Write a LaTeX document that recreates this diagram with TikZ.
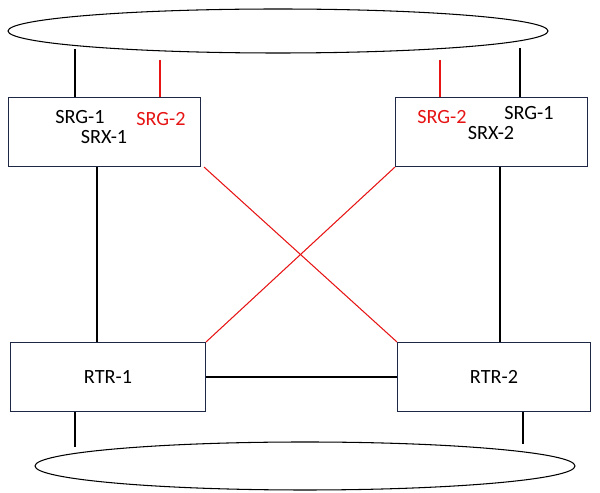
\documentclass[tikz,border=0pt]{standalone}
\usepackage{fontspec}
\setmainfont{Carlito}
\usetikzlibrary{calc}
\definecolor{srgred}{RGB}{230,20,20}
\definecolor{boxline}{RGB}{30,40,70}
\begin{document}
\begin{tikzpicture}[x=0.02cm,y=-0.02cm,
    box/.style={draw=boxline,semithick,minimum width=3.84cm,minimum height=1.38cm,anchor=north west,inner sep=0pt},
    lbl/.style={font=\fontsize{11.5}{13}\selectfont},
    red/.style={srgred,semithick},
    blk/.style={black,semithick}]
        \useasboundingbox (0,0) rectangle (600,493);
        \draw[semithick] (278,31) ellipse [x radius=270,y radius=22] coordinate (top);
        \draw[semithick] (305,466) ellipse [x radius=270,y radius=24] coordinate (bot);
        \node[box] (srx1) at (8,97) {};
        \node[box] (srx2) at (395,97) {};
        \node[box,minimum width=3.9cm] (rtr1) at (10,342) {};
        \node[box,minimum width=3.86cm] (rtr2) at (397,342) {};
        \node[lbl] (g11) at (80,117) {SRG-1};
        \node[lbl,srgred] (g21) at (161,119) {SRG-2};
        \node[lbl] (x1) at (104,137) {SRX-1};
        \node[lbl,srgred] (g22) at (442,117) {SRG-2};
        \node[lbl] (g12) at (529,113) {SRG-1};
        \node[lbl] (x2) at (491,133) {SRX-2};
        \node[lbl] (r1) at (rtr1) {RTR-1};
        \node[lbl] (r2) at (rtr2) {RTR-2};
        % ellipse touch points
        \coordinate (t1) at (75,49);
        \coordinate (t2) at (160,60);
        \coordinate (t3) at (440,60);
        \coordinate (t4) at (520,48);
        \coordinate (b1) at (75,447);
        \coordinate (b2) at (523,444);
        \draw[blk] (t1)--(t1|-srx1.north);
        \draw[red] (t2)--(t2|-srx1.north);
        \draw[red] (t3)--(t3|-srx2.north);
        \draw[blk] (t4)--(t4|-srx2.north);
        \draw[blk] ($(srx1.south west)+(89,0)$)--($(rtr1.north west)+(87,0)$);
        \draw[blk] ($(srx2.south west)+(105,0)$)--($(rtr2.north west)+(103,0)$);
        \draw[red] ($(srx1.south east)+(3,0)$)--(rtr2.north west);
        \draw[red] (srx2.south west)--(rtr1.north east);
        \draw[blk] (rtr1.east)--(rtr2.west);
        \draw[blk] (b1|-rtr1.south)--(b1);
        \draw[blk] (b2|-rtr2.south)--(b2);
\end{tikzpicture}
\end{document}
